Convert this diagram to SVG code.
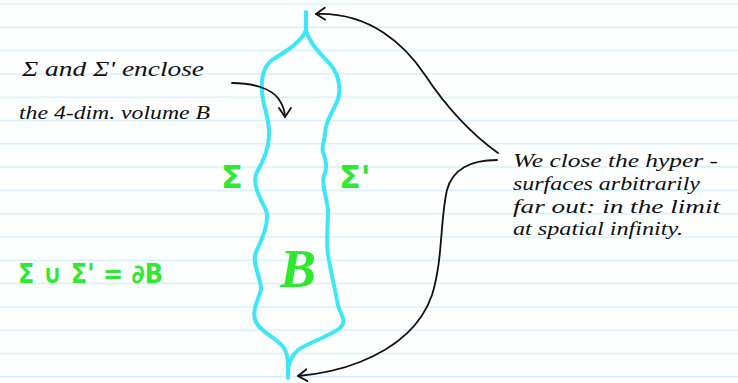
<svg xmlns="http://www.w3.org/2000/svg" width="738" height="383" viewBox="0 0 738 383">
  <defs>
    <style>
      .rule { stroke: #d6f1fb; stroke-width: 1.5; }
      .hand { font-family: "Liberation Serif", "DejaVu Serif", serif; font-style: italic; fill: #111; }
      .green { font-family: "DejaVu Sans", "Liberation Sans", sans-serif; font-weight: bold; fill: #2fe82f; }
      .surface { fill: none; stroke: #3fe7f6; stroke-width: 4; stroke-linecap: round; stroke-linejoin: round; }
      .conn { fill: none; stroke: #111; stroke-width: 1.8; stroke-linecap: round; }
    </style>
    <marker id="vhead" viewBox="-10 -7 12 14" markerWidth="12" markerHeight="14" refX="0" refY="0" orient="auto" markerUnits="userSpaceOnUse">
      <path d="M-9,-6 L0,0 L-9,6" fill="none" stroke="#111" stroke-width="1.8" stroke-linecap="round" stroke-linejoin="round"/>
    </marker>
  </defs>

  <rect width="738" height="383" fill="#fdfefe"/>
  <g id="paper-rules">
    <line class="rule" x1="0" y1="4" x2="738" y2="4"/>
    <line class="rule" x1="0" y1="27.3" x2="738" y2="27.3"/>
    <line class="rule" x1="0" y1="50.6" x2="738" y2="50.6"/>
    <line class="rule" x1="0" y1="73.9" x2="738" y2="73.9"/>
    <line class="rule" x1="0" y1="97.2" x2="738" y2="97.2"/>
    <line class="rule" x1="0" y1="120.5" x2="738" y2="120.5"/>
    <line class="rule" x1="0" y1="143.8" x2="738" y2="143.8"/>
    <line class="rule" x1="0" y1="167.1" x2="738" y2="167.1"/>
    <line class="rule" x1="0" y1="190.4" x2="738" y2="190.4"/>
    <line class="rule" x1="0" y1="213.7" x2="738" y2="213.7"/>
    <line class="rule" x1="0" y1="237" x2="738" y2="237"/>
    <line class="rule" x1="0" y1="260.3" x2="738" y2="260.3"/>
    <line class="rule" x1="0" y1="283.6" x2="738" y2="283.6"/>
    <line class="rule" x1="0" y1="306.9" x2="738" y2="306.9"/>
    <line class="rule" x1="0" y1="330.2" x2="738" y2="330.2"/>
    <line class="rule" x1="0" y1="353.5" x2="738" y2="353.5"/>
    <line class="rule" x1="0" y1="376.8" x2="738" y2="376.8"/>
  </g>

  <g id="volume-B">
    <path class="surface" d="M306,12 L306,30 C302,42 285,52 272,60 C262,68 261,80 262,92 C263,105 268,115 269,130 C270,145 264,160 257,172 C252,182 258,195 266,210 C270,222 262,240 256,252 C251,262 262,280 261,290 C258,300 251,312 256,322 C262,334 278,338 284,348 C289,356 288,366 288,378"/>
    <path class="surface" d="M306,30 C310,45 322,55 330,64 C340,76 342,92 336,104 C330,116 325,125 325,134 C325,140 321,146 323,152 C326,160 328,168 324,176 C321,184 327,198 328,210 C328,225 326,240 328,255 C331,272 336,295 338,305 C340,315 348,320 340,328 C330,336 310,342 298,350 C292,355 289,362 288,370"/>
    <text class="green" x="280" y="287" font-size="54" style="font-family:'Liberation Serif',serif;font-style:italic;font-weight:bold">B</text>
  </g>

  <g id="label-sigma">
    <text class="green" x="221" y="188" font-size="32">Σ</text>
  </g>
  <g id="label-sigma-prime">
    <text class="green" x="339" y="188" font-size="32">Σ'</text>
  </g>

  <g id="equation">
    <text class="green" x="18" y="283" font-size="26" textLength="145" lengthAdjust="spacingAndGlyphs">Σ ∪ Σ' = ∂B</text>
  </g>

  <g id="note-enclose">
    <text class="hand" x="22" y="76" font-size="20" textLength="182" lengthAdjust="spacingAndGlyphs">Σ and Σ' enclose</text>
    <text class="hand" x="19" y="119" font-size="18" textLength="191" lengthAdjust="spacingAndGlyphs">the 4-dim. volume B</text>
  </g>

  <g id="note-infinity">
    <text class="hand" x="513" y="167" font-size="19" textLength="205" lengthAdjust="spacingAndGlyphs">We close the hyper -</text>
    <text class="hand" x="513" y="190" font-size="19" textLength="187" lengthAdjust="spacingAndGlyphs">surfaces arbitrarily</text>
    <text class="hand" x="513" y="213" font-size="19" textLength="207" lengthAdjust="spacingAndGlyphs">far out: in the limit</text>
    <text class="hand" x="513" y="235" font-size="19" textLength="170" lengthAdjust="spacingAndGlyphs">at spatial infinity.</text>
  </g>

  <g id="connectors">
    <path class="conn" marker-end="url(#vhead)" d="M232,83 C252,83 270,88 278,98 C283,105 285,111 285,117"/>
    <path class="conn" marker-end="url(#vhead)" d="M498,153 C470,133 445,105 425,75 C405,45 370,12 316,14"/>
    <path class="conn" marker-end="url(#vhead)" d="M497,160 C470,160 452,170 447,190 C440,220 443,260 432,295 C420,330 390,350 360,362 C340,370 320,374 298,376"/>
  </g>
</svg>
